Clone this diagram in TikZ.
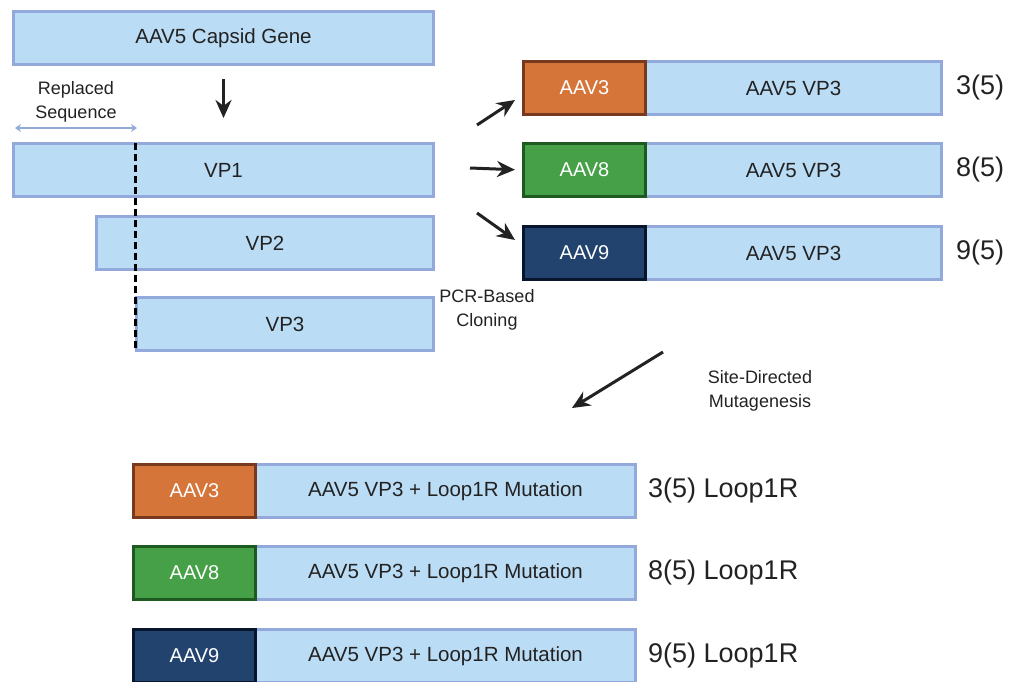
\documentclass[tikz,border=0pt]{standalone}
\usepackage{fontspec}
\setmainfont{Liberation Sans}
\usetikzlibrary{arrows.meta,calc}
\definecolor{genefill}{RGB}{187,220,245}
\definecolor{genedraw}{RGB}{148,169,219}
\definecolor{aavorange}{RGB}{214,117,58}
\definecolor{aavorangedark}{RGB}{120,58,30}
\definecolor{aavgreen}{RGB}{70,160,72}
\definecolor{aavgreendark}{RGB}{30,90,32}
\definecolor{aavnavy}{RGB}{35,67,111}
\definecolor{aavnavydark}{RGB}{8,22,45}
\definecolor{inktext}{RGB}{34,34,34}
\tikzset{
    genebox/.style={draw=genedraw,fill=genefill,line width=3pt,anchor=north west,
        minimum height=53pt,inner sep=0pt,text=inktext,font=\fontsize{20.5}{24}\selectfont},
    serobox/.style={line width=3pt,anchor=north west,minimum width=122pt,
        minimum height=53pt,inner sep=0pt,text=white,font=\fontsize{20}{24}\selectfont},
    sero3/.style={serobox,fill=aavorange,draw=aavorangedark},
    sero8/.style={serobox,fill=aavgreen,draw=aavgreendark},
    sero9/.style={serobox,fill=aavnavy,draw=aavnavydark},
    steptext/.style={text=inktext,align=center,font=\fontsize{18}{24.5}\selectfont},
    namelabel/.style={anchor=west,text=inktext,inner sep=0pt,font=\fontsize{27}{30}\selectfont},
    flowarrow/.style={-{Stealth[length=18pt,width=16pt]},line width=3pt,inktext},
    cutline/.style={line width=3pt,black,dash pattern=on 7pt off 4pt},
    spanarrow/.style={{Stealth[length=6pt,width=8pt]}-{Stealth[length=6pt,width=8pt]},line width=2.5pt,genedraw}
}

\begin{document}
\begin{tikzpicture}[x=1pt,y=-1pt]
    \useasboundingbox (0,0) rectangle (1011,681);
    % Capsid gene and its proteins
    \node[genebox,minimum width=420pt] (capsid) at (12,10) {AAV5 Capsid Gene};
    \node[genebox,minimum width=420pt] (vp1) at (12,142) {VP1};
    \node[genebox,minimum width=337pt] (vp2) at (95,215) {VP2};
    \node[genebox,minimum width=297pt] (vp3) at (135,296) {VP3};
    \draw[flowarrow,shorten <=13pt,shorten >=24pt] (capsid) -- (vp1);
    % Replaced sequence
    \node[steptext] (replaced) at (76,102) {Replaced\\Sequence};
    \coordinate (spanL) at (15,128);
    \coordinate (spanR) at (137,128);
    \draw[spanarrow] (spanL) -- (spanR);
    \coordinate (cutTop) at (135,143);
    \coordinate (cutBot) at (135,350);
    \draw[cutline] (cutTop) -- (cutBot);
    \node[steptext] (pcr) at (487,310) {PCR-Based\\Cloning};
    % Chimeras 3(5), 8(5), 9(5)
    \foreach \sero/\row/\ytop in {3/a/60,8/b/142,9/c/225}{
        \node[genebox,minimum width=296pt] (vp\row) at (644,\ytop) {AAV5 VP3};
        \node[sero\sero] (aav\row) at (522,\ytop) {AAV\sero};
        \node[namelabel] (name\row) at ($(vp\row.east)+(13,0)$) {\sero(5)};
    }
    \coordinate (tailA) at (477,125);
    \coordinate (headA) at (515,100);
    \coordinate (tailB) at (470,168);
    \coordinate (tailC) at (477,213);
    \coordinate (headC) at (515,240);
    \draw[flowarrow] (tailA) -- (headA);
    \draw[flowarrow,shorten >=7pt] (tailB) -- (aavb.west);
    \draw[flowarrow] (tailC) -- (headC);
    % Site-directed mutagenesis
    \coordinate (mutTail) at (663,352);
    \coordinate (mutHead) at (572,408);
    \draw[flowarrow] (mutTail) -- (mutHead);
    \node[steptext] (sdm) at (760,391) {Site-Directed\\Mutagenesis};
    % Loop1R mutants
    \foreach \sero/\row/\ytop in {3/a/463,8/b/545,9/c/628}{
        \node[genebox,minimum width=380pt] (loop\row) at (254,\ytop) {AAV5 VP3 + Loop1R Mutation};
        \node[sero\sero] (mut\row) at (132,\ytop) {AAV\sero};
        \node[namelabel] (loopname\row) at ($(loop\row.east)+(11,0)$) {\sero(5) Loop1R};
    }
\end{tikzpicture}
\end{document}
